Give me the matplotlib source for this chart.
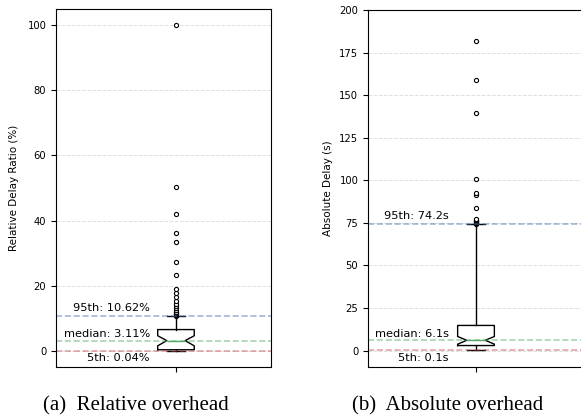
import matplotlib
matplotlib.use('Agg')
import matplotlib.pyplot as plt

# --- data --------------------------------------------------------------------
# (a) relative delay ratio, %
rel_q1, rel_med, rel_q3 = 0.3, 3.11, 6.5
rel_p5, rel_p95 = 0.04, 10.62
rel_ci = (1.5, 4.6)
rel_fliers = [10.8, 11.0, 11.3, 11.6, 12.0, 12.5, 13.2, 13.8, 14.4, 15.2,
              16.5, 17.7, 19.0, 23.2, 27.2, 33.4, 36.2, 42.1, 50.2, 100.0]

# (b) absolute delay, s
abs_q1, abs_med, abs_q3 = 3.0, 6.1, 14.8
abs_p5, abs_p95 = 0.1, 74.2
abs_ci = (3.8, 8.3)
abs_fliers = [74.6, 74.9, 75.2, 75.5, 75.9, 76.3, 76.8, 77.3, 83.5, 91.6,
              92.4, 100.6, 139.8, 159.0, 182.0]

rel_yticks = [0, 20, 40, 60, 80, 100]
abs_yticks = [0, 25, 50, 75, 100, 125, 150, 175, 200]

C_BLUE, C_GREEN, C_RED = '#4c72b0', '#55a868', '#c44e52'


def stats(q1, med, q3, lo, hi, ci, fliers):
    return dict(q1=q1, med=med, q3=q3, whislo=lo, whishi=hi,
                cilo=ci[0], cihi=ci[1], fliers=fliers)


def draw(ax, st, p5, med, p95, unit, fmt, text_x, offs, yticks, ylabel):
    ax.bxp([st], positions=[1], widths=0.17, shownotches=True,
           boxprops=dict(color='black', lw=1.0),
           whiskerprops=dict(color='black', lw=1.0),
           capprops=dict(color='black', lw=1.0),
           medianprops=dict(color=C_GREEN, lw=1.0),
           flierprops=dict(marker='o', markersize=3, markerfacecolor='white',
                           markeredgecolor='black', markeredgewidth=0.8))
    ax.axhline(p95, color=C_BLUE, ls='--', lw=1.2, alpha=0.5)
    ax.axhline(med, color=C_GREEN, ls='--', lw=1.2, alpha=0.5)
    ax.axhline(p5, color=C_RED, ls='--', lw=1.2, alpha=0.5)
    kw = dict(textcoords='offset points', ha='right', fontsize=8.2)
    ax.annotate(f'95th: {p95:{fmt}}{unit}', (text_x, p95), xytext=(0, offs[0]),
                va='bottom', **kw)
    ax.annotate(f'median: {med:{fmt}}{unit}', (text_x, med), xytext=(0, offs[1]),
                va='bottom', **kw)
    ax.annotate(f'5th: {p5:{fmt}}{unit}', (text_x, p5), xytext=(0, offs[2]),
                va='top', **kw)
    ax.set_xticks([1])
    ax.set_xticklabels([''])
    ax.set_yticks(yticks)
    ax.tick_params(labelsize=7.2)
    ax.set_ylabel(ylabel, fontsize=7.5)
    ax.grid(True, axis='y', ls='--', color='gray', alpha=0.25, lw=0.7)
    ax.set_axisbelow(True)


fig = plt.figure(figsize=(5.81, 4.17), dpi=100)
ax1 = fig.add_axes([56 / 581, 50 / 417, 215 / 581, 358 / 417])
ax2 = fig.add_axes([368 / 581, 50 / 417, 216 / 581, 357 / 417])

draw(ax1, stats(rel_q1, rel_med, rel_q3, rel_p5, rel_p95, rel_ci, rel_fliers),
     rel_p5, rel_med, rel_p95, '%', '.2f', 0.879, (2, 1, -2),
     rel_yticks, 'Relative Delay Ratio (%)')
ax1.set_xlim(0.442, 1.442)
ax1.set_ylim(-5, 105)
ax1.yaxis.set_label_coords(-0.172, 0.5)

draw(ax2, stats(abs_q1, abs_med, abs_q3, abs_p5, abs_p95, abs_ci, abs_fliers),
     abs_p5, abs_med, abs_p95, 's', '.1f', 0.875, (2, 1, -2),
     abs_yticks, 'Absolute Delay (s)')
ax2.set_xlim(0.5, 1.5)
ax2.set_ylim(-9.6, 200)
ax2.yaxis.set_label_coords(-0.162, 0.5)

cap_kw = dict(family='Liberation Serif', fontsize=15, ha='center', va='baseline')
fig.text(136 / 581, 1 - 410 / 417, '(a)  Relative overhead', **cap_kw)
fig.text(448 / 581, 1 - 410 / 417, '(b)  Absolute overhead', **cap_kw)

fig.savefig('out.png', dpi=100)
